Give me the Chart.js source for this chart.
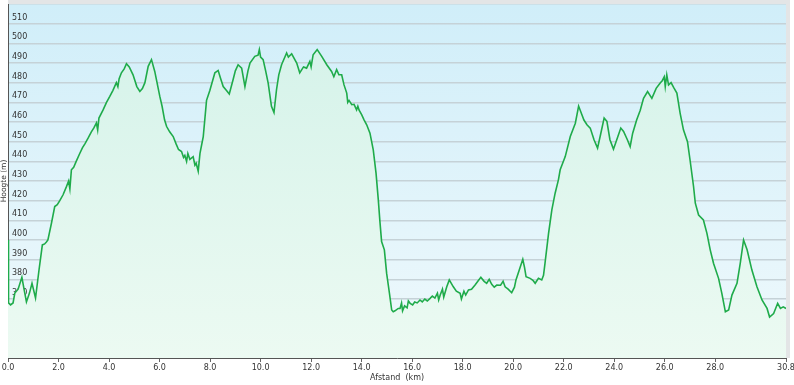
<!DOCTYPE html>
<html>
<head>
<meta charset="utf-8">
<script src="https://cdn.jsdelivr.net/npm/chart.js@4.4.1/dist/chart.umd.min.js"></script>
<style>
html,body{margin:0;padding:0;background:#fff;}
#wrap{width:794px;height:385px;}
</style>
</head>
<body>
<div id="wrap"><canvas id="c" width="794" height="385"></canvas></div>
<script>
const distanceKm = [
0.00,0.02,0.10,0.20,0.27,0.40,0.55,0.65,0.73,0.85,0.95,1.09,1.23,1.36,1.45,1.52,1.58,1.72,1.85,1.95,
2.05,2.18,2.31,2.40,2.45,2.51,2.60,2.70,2.84,2.95,3.05,3.17,3.30,3.40,3.50,3.55,3.60,3.76,3.90,4.03,
4.15,4.29,4.35,4.40,4.49,4.60,4.69,4.80,4.95,5.10,5.22,5.32,5.42,5.55,5.68,5.81,5.90,6.01,6.10,6.20,
6.28,6.40,6.54,6.65,6.75,6.87,6.95,7.00,7.07,7.12,7.20,7.33,7.40,7.45,7.53,7.60,7.73,7.86,7.99,8.10,
8.19,8.32,8.42,8.52,8.65,8.76,8.91,9.00,9.11,9.25,9.38,9.50,9.58,9.77,9.90,9.95,10.00,10.10,10.20,10.30,
10.43,10.53,10.63,10.72,10.83,11.03,11.10,11.23,11.43,11.55,11.63,11.70,11.82,11.95,12.00,12.08,12.24,12.42,12.62,12.81,
12.90,13.01,13.10,13.21,13.30,13.41,13.45,13.50,13.61,13.70,13.80,13.85,13.90,14.00,14.10,14.20,14.33,14.46,14.57,14.66,
14.72,14.79,14.90,14.99,15.10,15.19,15.25,15.32,15.45,15.52,15.58,15.62,15.70,15.80,15.85,15.92,16.02,16.10,16.20,16.31,
16.40,16.50,16.60,16.71,16.80,16.90,17.00,17.05,17.11,17.20,17.25,17.37,17.47,17.63,17.75,17.90,17.95,18.05,18.12,18.23,
18.35,18.49,18.60,18.72,18.85,18.95,19.05,19.15,19.25,19.35,19.50,19.60,19.68,19.80,19.94,20.05,20.11,20.24,20.38,20.45,
20.51,20.67,20.78,20.87,21.00,21.13,21.20,21.26,21.40,21.53,21.66,21.79,21.86,22.06,22.26,22.46,22.59,22.72,22.80,22.92,
23.05,23.20,23.34,23.47,23.60,23.71,23.83,23.97,24.10,24.26,24.37,24.52,24.63,24.73,24.89,25.03,25.16,25.32,25.49,25.66,
25.82,25.90,25.98,26.02,26.08,26.15,26.25,26.35,26.48,26.61,26.74,26.90,27.00,27.14,27.21,27.34,27.53,27.67,27.80,27.93,
28.13,28.26,28.40,28.53,28.66,28.86,28.99,29.12,29.26,29.45,29.65,29.85,30.05,30.15,30.31,30.47,30.58,30.69,30.80
];
const elevationM = [
400,368,367,368,373,375,381,374,368.5,373,378,370.5,385,397.5,398,399,400,408.5,417,418,
420,423,427,430,426,435.7,437,440,444,447,449,451.8,455,457,459.5,456,462,466,470,473,
476,480,478,482,485,487,489.6,488,484,478,475.5,477,480,488.3,491.7,485.7,480,473,468,461,
457.7,455,452.6,449,446,445,442,443,440,444,441,442.4,438,439,435,444,452.6,471,476,481,
485,486.2,482,478,476,474.2,481.5,486,489.1,487.4,478,486,490,493.4,494,496.8,493,491.7,486,479.8,
468,464.8,476.4,484,489.1,495.1,493,494.7,490,485,486.6,488,487.4,490.8,488,494.2,496.8,493.4,489.1,485.7,
483,486.6,484,484,479,474.7,470,471,468.8,469,466.2,468,466,463.7,461,458.6,454.3,445.8,434,420.4,
410,399.2,395,383,373,364.4,363.5,364,365.2,365.2,368,364,366.5,365.5,369,367.8,367,368.5,368,369.5,
368.5,370,369,370.3,371.5,370.5,373,369.5,372,375,371,376.2,379.7,376.2,374,372.9,370,374,372,374.6,
375,377.1,379,381,379,378,380,377.5,376,377.1,377,379,376.2,375,373.2,376,379.7,384.7,390.2,386,
381.3,380.5,379.5,378,380.5,379.7,382,388.2,403.4,415.3,423.8,430.6,435.7,442.4,452.6,459.4,468.1,463.7,461,458.6,
456.9,451,446.7,454.3,462,460.3,451,446.2,451,456.9,455.2,451,447.5,454.3,461.1,466,472,475.5,472,477.1,
479.8,481,483,478,484,478.8,480,477.6,474.7,464.4,456,450,440.8,427.2,418.7,412.7,410.2,403.4,395,388.2,
380.5,372.9,363.5,364.4,372,378,388.2,400,395,384.7,376.2,369.5,365.2,360.8,362.6,367.8,365.2,366,365.2
];
const xTickValues = [0,2,4,6,8,10,12,14,16,18,20,22,24,26,28,30.8];
const yMin = 340, yMax = 520, yStep = 10;
const yLabelMin = 350, yLabelMax = 510;

const points = distanceKm.map((d, i) => ({x: d, y: elevationM[i]}));

const bgPlugin = {
  id: 'bg',
  beforeDraw(chart) {
    const {ctx, chartArea: a} = chart;
    ctx.save();
    ctx.fillStyle = '#ffffff';
    ctx.fillRect(0, 0, chart.width, chart.height);
    const g = ctx.createLinearGradient(0, a.top, 0, a.bottom);
    g.addColorStop(0, '#d0eef9');
    g.addColorStop(1, '#eff9fc');
    ctx.fillStyle = g;
    ctx.fillRect(a.left, a.top, a.right - a.left, a.bottom - a.top);
    ctx.restore();
  },
  afterDraw(chart) {
    const {ctx, chartArea: a} = chart;
    ctx.save();
    ctx.fillStyle = '#e3e5e6';
    ctx.fillRect(a.left, 0, a.right - a.left + 4, a.top);
    ctx.fillRect(a.right, 0, 4, a.bottom);
    ctx.restore();
  }
};

new Chart(document.getElementById('c'), {
  type: 'line',
  data: {
    datasets: [{
      data: points,
      borderColor: '#1fab4a',
      borderWidth: 1.6,
      pointRadius: 0,
      tension: 0,
      fill: 'start',
      backgroundColor(context) {
        const chart = context.chart;
        const a = chart.chartArea;
        if (!a) return 'rgba(200,240,220,0.6)';
        const g = chart.ctx.createLinearGradient(0, a.top, 0, a.bottom);
        g.addColorStop(0, '#d3f2e9');
        g.addColorStop(1, '#ecfaf2');
        return g;
      }
    }]
  },
  options: {
    responsive: false,
    animation: false,
    layout: {padding: {top: 4, right: 8, left: 0, bottom: 0}},
    plugins: {legend: {display: false}, tooltip: {enabled: false}},
    scales: {
      x: {
        type: 'linear',
        min: 0,
        max: 30.8,
        offset: false,
        afterBuildTicks(scale) {
          scale.ticks = xTickValues.map(v => ({value: v}));
        },
        afterFit(scale) {
          scale.height = 27;
          scale.paddingLeft = 0;
          scale.paddingRight = 0;
        },
        ticks: {
          autoSkip: false,
          maxRotation: 0,
          padding: 1,
          color: '#333',
          font: {family: 'DejaVu Sans', size: 8},
          callback: v => Number(v).toFixed(1)
        },
        grid: {display: true, drawOnChartArea: false, drawTicks: true, tickLength: 4, color: '#666'},
        border: {display: true, color: '#555', width: 1},
        title: {
          display: true,
          text: 'Afstand  (km)',
          color: '#333',
          font: {family: 'DejaVu Sans', size: 8},
          padding: {top: 0, bottom: 2}
        }
      },
      y: {
        min: yMin,
        max: yMax,
        afterBuildTicks(scale) {
          const t = [];
          for (let v = yMin; v <= yMax; v += yStep) t.push({value: v});
          scale.ticks = t;
        },
        afterFit(scale) {
          scale.width = 8;
          scale.paddingTop = 0;
          scale.paddingBottom = 0;
        },
        ticks: {
          mirror: true,
          padding: 4,
          labelOffset: -6,
          color: '#333',
          font: {family: 'DejaVu Sans', size: 8},
          callback: v => (v >= yLabelMin && v <= yLabelMax) ? String(v) : ''
        },
        grid: {color: '#c5d2d7', lineWidth: 1.5, drawTicks: false},
        border: {display: true, color: '#555', width: 1},
        title: {
          display: true,
          text: 'Hoogte (m)',
          color: '#333',
          font: {family: 'DejaVu Sans', size: 7.5},
          padding: {top: 0, bottom: 0}
        }
      }
    }
  },
  plugins: [bgPlugin]
});
</script>
</body>
</html>
